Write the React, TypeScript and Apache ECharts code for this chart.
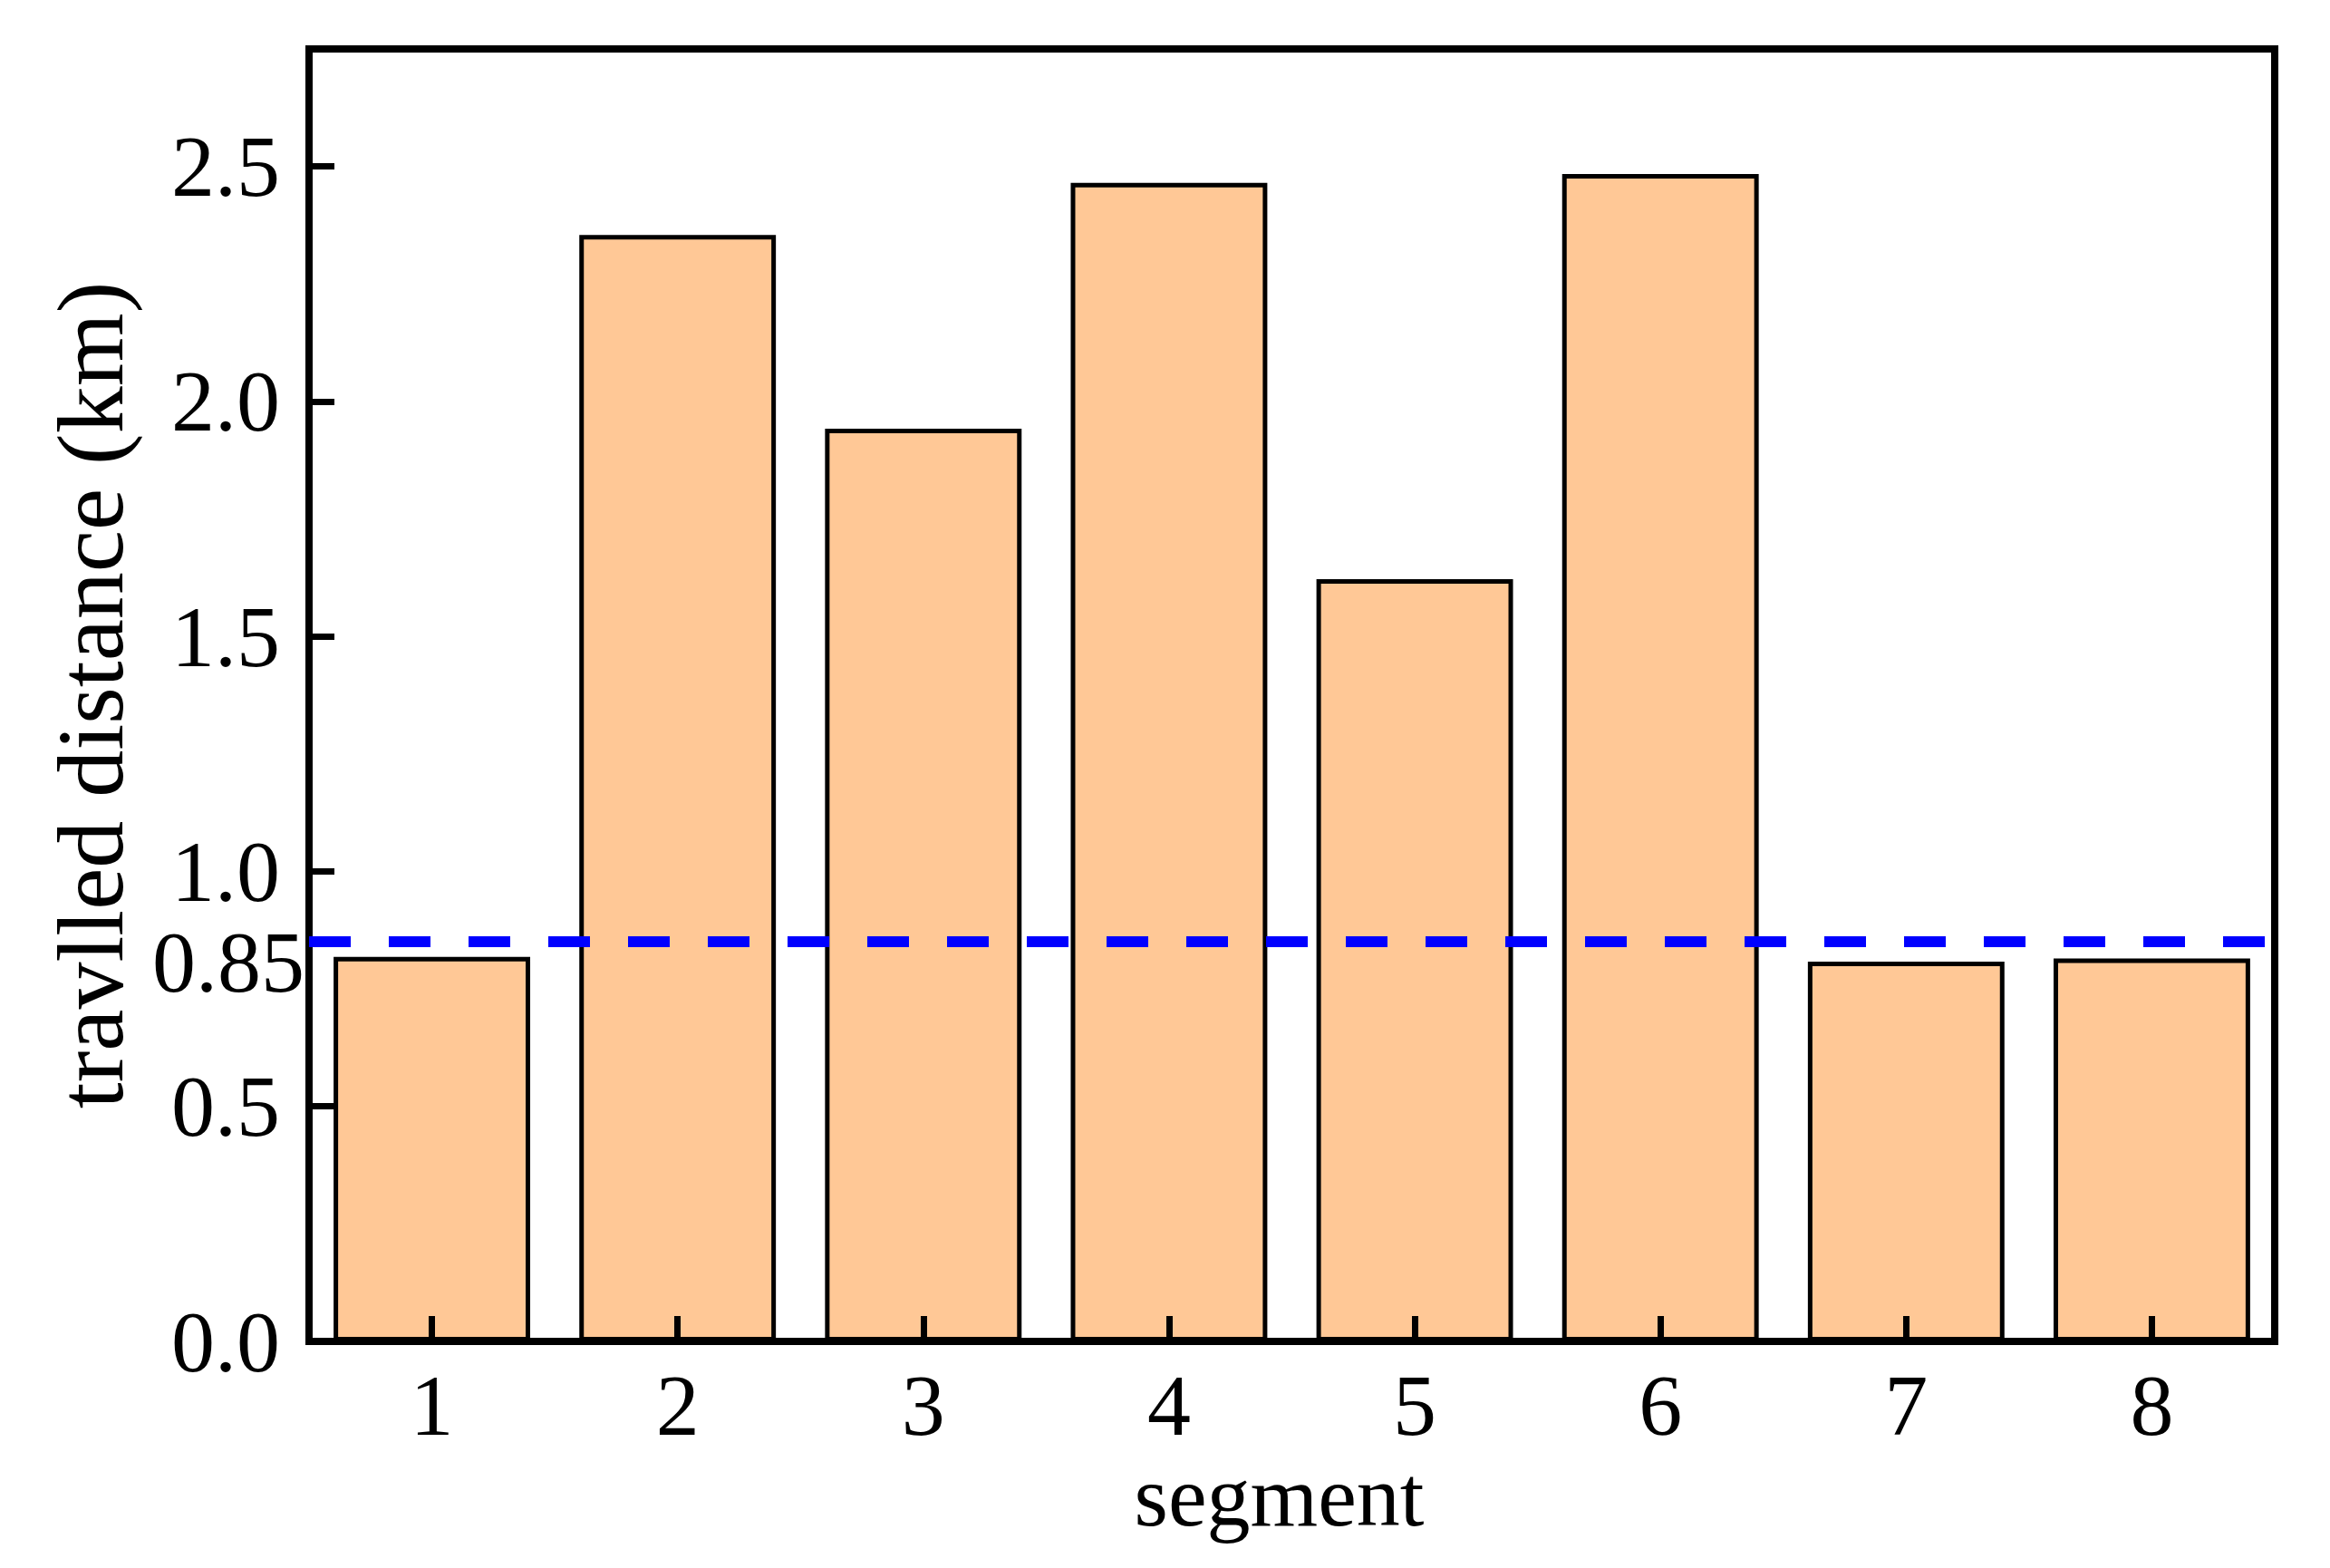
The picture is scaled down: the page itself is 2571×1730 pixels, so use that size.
import React, { useEffect, useRef } from "react";
import * as echarts from "echarts";

const categories = ["1", "2", "3", "4", "5", "6", "7", "8"];
const distances = [0.818, 2.354, 1.942, 2.465, 1.622, 2.484, 0.808, 0.815];
const thresholdValue = 0.85;
const thresholdLabel = "0.85";
const yTitle = "travlled distance (km)";
const xTitle = "segment";

const FONT = '"Liberation Serif", "Times New Roman", serif';

export default function App() {
  const ref = useRef<HTMLDivElement>(null);
  useEffect(() => {
    if (!ref.current) return;
    const chart = echarts.init(ref.current, undefined, { renderer: "svg" });
    chart.setOption({
      animation: false,
      backgroundColor: "#ffffff",
      textStyle: { fontFamily: FONT },
      grid: {
        left: 341,
        right: 61,
        top: 54,
        bottom: 250,
        show: true,
        borderColor: "#000000",
        borderWidth: 8,
        backgroundColor: "transparent",
      },
      xAxis: {
        type: "category",
        data: categories,
        z: 10,
        name: xTitle,
        nameLocation: "middle",
        nameGap: 120,
        nameTextStyle: { fontFamily: FONT, fontSize: 96, color: "#000", padding: [0, 28, 0, 0] },
        axisLine: { lineStyle: { color: "#000", width: 8 } },
        axisTick: { show: true, inside: true, alignWithLabel: true, length: 28, lineStyle: { color: "#000", width: 7 } },
        axisLabel: { fontFamily: FONT, fontSize: 96, color: "#000", margin: 22 },
        splitLine: { show: false },
      },
      yAxis: {
        type: "value",
        min: 0,
        max: 2.75,
        interval: 0.5,
        z: 10,
        name: yTitle,
        nameLocation: "middle",
        nameGap: 190,
        nameRotate: 90,
        nameTextStyle: { fontFamily: FONT, fontSize: 104, color: "#000" },
        axisLine: { show: true, lineStyle: { color: "#000", width: 8 } },
        axisTick: { show: true, inside: true, length: 28, lineStyle: { color: "#000", width: 7 } },
        axisLabel: {
          fontFamily: FONT,
          fontSize: 96,
          color: "#000",
          margin: 32,
          showMaxLabel: false,
          formatter: (v: number) => (Math.abs(v * 2 - Math.round(v * 2)) < 1e-6 ? v.toFixed(1) : ""),
        },
        splitLine: { show: false },
      },
      series: [
        {
          type: "bar",
          data: distances,
          barCategoryGap: "20%",
          itemStyle: { color: "#FFC896", borderColor: "#000", borderWidth: 5 },
          markLine: {
            silent: true,
            symbol: ["none", "none"],
            z: 20,
            data: [{ yAxis: thresholdValue }],
            lineStyle: { color: "#0000FF", width: 12, type: [46, 42] },
            label: {
              show: true,
              position: "start",
              formatter: "{gap| }\n{v|" + thresholdLabel + "}",
              distance: 5,
              rich: {
                gap: { fontSize: 10, lineHeight: 44 },
                v: { fontFamily: FONT, fontSize: 96, lineHeight: 70, color: "#000" },
              },
            },
          },
        },
      ],
    });
    return () => chart.dispose();
  }, []);
  return (
    <div
      ref={ref}
      style={{ position: "fixed", left: 0, top: 0, width: 2571, height: 1730, background: "#fff" }}
    />
  );
}
